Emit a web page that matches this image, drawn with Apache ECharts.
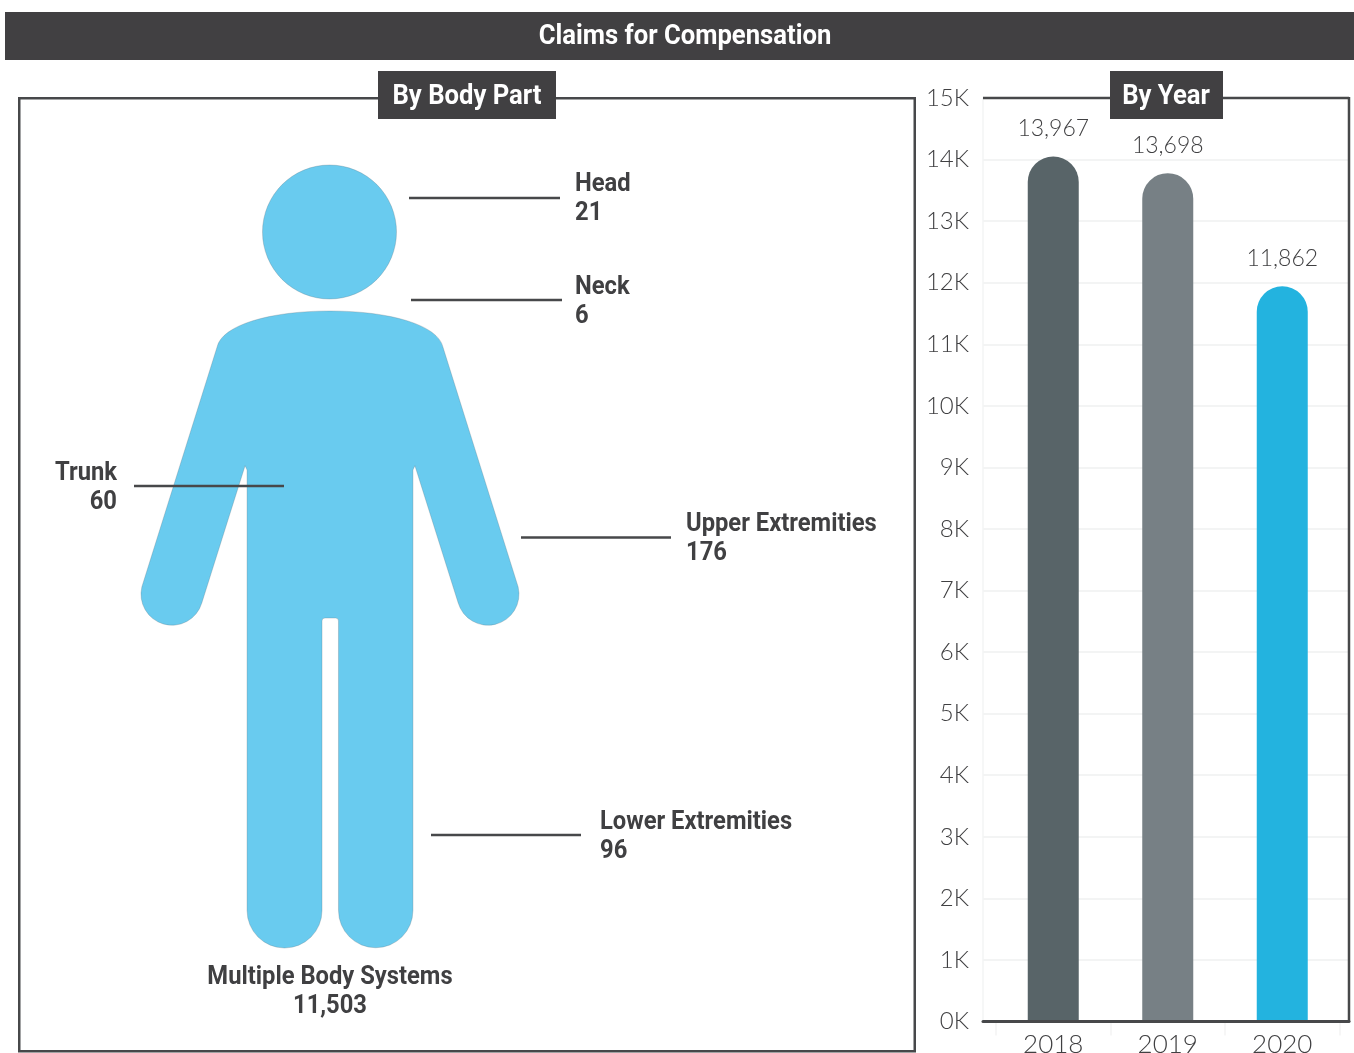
<!DOCTYPE html>
<html>
<head>
<meta charset="utf-8">
<style>html,body{margin:0;padding:0;background:#fff}#c{width:1354px;height:1053px}</style>
<script src="https://cdn.jsdelivr.net/npm/echarts@6/dist/echarts.min.js"></script>
</head>
<body>
<div id="c"></div>
<script>
const years = ['2018', '2019', '2020'];
const yearValues = [13967, 13698, 11862];
const yearColors = ['#586468', '#778085', '#23B3DF'];
const bodyParts = ['Head', 'Neck', 'Trunk', 'Upper Extremities', 'Lower Extremities', 'Multiple Body Systems'];
const bodyValues = [21, 6, 60, 176, 96, 11503];
const titleMain = 'Claims for Compensation';
const titleLeft = 'By Body Part';
const titleRight = 'By Year';

const DARK = '#414042', FRAME = '#47484a', TEXT = '#404042', TICK = '#404042', GRID = '#f3f4f4', BODY = '#69CBEF';
const boldFont = 'Roboto,sans-serif';
const lightFont = 'Lato,"Open Sans",sans-serif';
const capOvershoot = 5;
const narrow = 0.95;

const partLayout = [
  {x: 575, y: 185, align: 'left',   line: [409, 560, 198]},
  {x: 575, y: 288, align: 'left',   line: [411, 562, 300]},
  {x: 117, y: 474, align: 'right',  line: [134, 284, 486]},
  {x: 686, y: 525, align: 'left',   line: [521, 671, 537.5]},
  {x: 600, y: 823, align: 'left',   line: [431, 581, 835]},
  {x: 330, y: 978, align: 'center', line: null}
];
const bodyPath = 'M217 347 C222 325 270 311 330 311 C390 311 438 325 443 347 L518.3 587 A31.06 31.06 0 0 1 458.3 603 L415 465.7 L413 470 L413 910.5 A37.25 37.25 0 0 1 338.5 910.5 L338.5 621 Q338.5 618 335.5 618 L325 618 Q322 618 322 621 L322 910.5 A37.5 37.5 0 0 1 247 910.5 L247 470 L245 465.7 L201.7 603 A31.06 31.06 0 0 1 141.7 587 Z';

function label(text, x, y, size, color, align) {
  return {type: 'text', z: 20, x, y, scaleX: narrow, style: {text, x: 0, y: 0, align: align || 'left', verticalAlign: 'middle',
    font: 'bold ' + size + 'px ' + boldFont, fill: color || TEXT}};
}
function hline(x1, x2, y, w) {
  return {type: 'line', z: 15, shape: {x1, y1: y, x2, y2: y}, style: {stroke: FRAME, lineWidth: w || 2.5}};
}
const graphics = [
  {type: 'rect', z: 5, shape: {x: 5, y: 12, width: 1349, height: 48}, style: {fill: DARK}},
  label(titleMain, 685, 37, 27, '#fff', 'center'),
  {type: 'rect', z: 5, shape: {x: 19.25, y: 98.25, width: 895.5, height: 953}, style: {fill: 'none', stroke: FRAME, lineWidth: 2.5}},
  {type: 'rect', z: 6, shape: {x: 378, y: 71, width: 178, height: 48}, style: {fill: DARK}},
  label(titleLeft, 467, 97, 27, '#fff', 'center'),
  {type: 'line', z: 5, shape: {x1: 983, y1: 98, x2: 1349, y2: 98}, style: {stroke: FRAME, lineWidth: 2.5}},
  {type: 'line', z: 5, shape: {x1: 1349, y1: 97, x2: 1349, y2: 1022}, style: {stroke: FRAME, lineWidth: 2.5}},
  {type: 'rect', z: 6, shape: {x: 1110, y: 71, width: 113, height: 48}, style: {fill: DARK}},
  label(titleRight, 1166, 97, 27, '#fff', 'center'),
  {type: 'circle', z: 8, shape: {cx: 329.5, cy: 232, r: 67}, style: {fill: BODY, stroke: 'rgba(90,110,120,.45)', lineWidth: 0.6}}
];
bodyParts.forEach((name, i) => {
  const p = partLayout[i];
  graphics.push(label(name, p.x, p.y, 25, TEXT, p.align));
  graphics.push(label(bodyValues[i].toLocaleString('en-US'), p.x, p.y + 29, 25, TEXT, p.align));
  if (p.line) graphics.push(hline(p.line[0], p.line[1], p.line[2]));
});

const chart = echarts.init(document.getElementById('c'), null, {renderer: 'canvas'});
chart.setOption({
  animation: false,
  backgroundColor: '#fff',
  graphic: {elements: graphics},
  grid: [
    {left: 983, width: 366, top: 98, height: 923.5, outerBoundsMode: 'none'},
    {left: 996, width: 343.5, top: 98, height: 923.5, outerBoundsMode: 'none'}
  ],
  xAxis: [
    {gridIndex: 0, type: 'category', data: [''], axisTick: {show: false}, axisLabel: {show: false},
      axisLine: {show: true, lineStyle: {color: FRAME, width: 3}}, z: 10},
    {gridIndex: 1, type: 'category', data: years, boundaryGap: true,
      axisLine: {show: false},
      axisTick: {show: true, length: 14, lineStyle: {color: GRID, width: 1.5}},
      axisLabel: {fontFamily: lightFont, fontSize: 26, fontWeight: 300, color: TICK, margin: 10, interval: 0}}
  ],
  yAxis: [
    {gridIndex: 0, type: 'value', min: 0, max: 15000, interval: 1000,
      axisLine: {show: true, lineStyle: {color: GRID, width: 1.5}}, axisTick: {show: false},
      splitLine: {show: true, lineStyle: {color: GRID, width: 2}},
      axisLabel: {fontFamily: lightFont, fontSize: 24, fontWeight: 300, color: TICK, margin: 14, padding: [6, 0, 0, 0],
        formatter: v => (v / 1000) + 'K'}},
    {gridIndex: 1, type: 'value', min: 0, max: 15000, interval: 1000, show: false}
  ],
  series: [{
    type: 'custom',
    coordinateSystem: 'none',
    silent: true,
    z: 3,
    data: [[0]],
    renderItem() {
      return {type: 'path', shape: {pathData: bodyPath, layout: 'cover', x: 141, y: 311, width: 378, height: 637},
        style: {fill: BODY, stroke: 'rgba(90,110,120,.45)', lineWidth: 0.6}};
    }
  }, {
    type: 'custom',
    xAxisIndex: 1,
    yAxisIndex: 1,
    encode: {x: 0, y: 1},
    data: years.map((y, i) => [i, yearValues[i]]),
    renderItem(params, api) {
      const i = api.value(0), v = api.value(1);
      const top = api.coord([i, v]);
      const base = api.coord([i, 0]);
      const yTop = top[1] - capOvershoot;
      const w = 51;
      return {type: 'group', children: [
        {type: 'rect', shape: {x: top[0] - w / 2, y: yTop, width: w, height: base[1] - yTop, r: [w / 2, w / 2, 0, 0]},
          style: {fill: yearColors[i]}},
        {type: 'text', style: {text: v.toLocaleString('en-US'), x: top[0], y: yTop - 28, align: 'center', verticalAlign: 'middle',
          font: '300 23px ' + lightFont, fill: TICK}}
      ]};
    }
  }]
});
</script>
</body>
</html>
